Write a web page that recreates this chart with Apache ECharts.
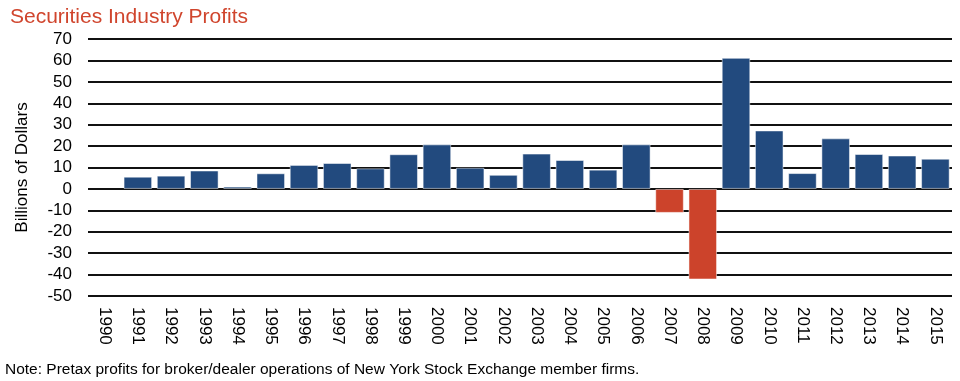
<!DOCTYPE html>
<html>
<head>
<meta charset="utf-8">
<script src="https://cdn.jsdelivr.net/npm/echarts@6/dist/echarts.min.js"></script>
<style>
html,body{margin:0;padding:0;background:#fff;}
#chart{width:960px;height:381px;}
</style>
</head>
<body>
<div id="chart"></div>
<script>
var years = ['1990','1991','1992','1993','1994','1995','1996','1997','1998','1999','2000','2001','2002','2003','2004','2005','2006','2007','2008','2009','2010','2011','2012','2013','2014','2015'];
var profits = [null, 5.7, 6.2, 8.6, 1.1, 7.3, 11.2, 12.1, 9.6, 16.2, 20.8, 9.9, 6.6, 16.5, 13.5, 9.0, 20.8, -11.2, -42.3, 61.2, 27.3, 7.4, 23.6, 16.3, 15.6, 14.1];
var yTicks = [-50, -40, -30, -20, -10, 0, 10, 20, 30, 40, 50, 60, 70];
var titleText = 'Securities Industry Profits';
var yName = 'Billions of Dollars';
var noteText = 'Note: Pretax profits for broker/dealer operations of New York Stock Exchange member firms.';

var BLUE = '#224a7e';
var RED = '#cc432b';
var FONT = '"Liberation Sans", Arial, Helvetica, sans-serif';

var chart = echarts.init(document.getElementById('chart'), null, {renderer: 'canvas'});
chart.setOption({
  animation: false,
  backgroundColor: '#fff',
  title: {
    text: titleText,
    left: 5, top: 2,
    textStyle: {color: '#d0452d', fontSize: 21, fontWeight: 'normal', fontFamily: FONT}
  },
  graphic: [{
    type: 'text', left: 5, top: 362,
    style: {text: noteText, fill: '#000', font: '15.5px ' + FONT}
  }],
  grid: {left: 88, right: 8, top: 39, bottom: 85, containLabel: false},
  xAxis: {
    type: 'category',
    data: years,
    boundaryGap: true,
    axisLine: {show: false, onZero: false},
    axisTick: {show: false},
    axisLabel: {rotate: -90, interval: 0, margin: 11, fontSize: 17, color: '#000', fontFamily: FONT}
  },
  yAxis: {
    type: 'value',
    min: yTicks[0], max: yTicks[yTicks.length - 1], interval: 10,
    name: yName,
    nameLocation: 'middle',
    nameGap: 57,
    nameTextStyle: {fontSize: 17, color: '#000', fontFamily: FONT},
    axisLine: {show: false},
    axisTick: {show: false},
    axisLabel: {fontSize: 17, color: '#000', margin: 16, fontFamily: FONT},
    splitLine: {show: true, lineStyle: {color: '#111', width: 1.8}}
  },
  series: [{
    type: 'bar',
    barCategoryGap: '14%',
    data: profits.map(function (v) {
      return {value: v, itemStyle: {color: v < 0 ? RED : BLUE}};
    }),
    itemStyle: {borderColor: 'rgba(255,255,255,0.5)', borderWidth: 1}
  }]
});
</script>
</body>
</html>
